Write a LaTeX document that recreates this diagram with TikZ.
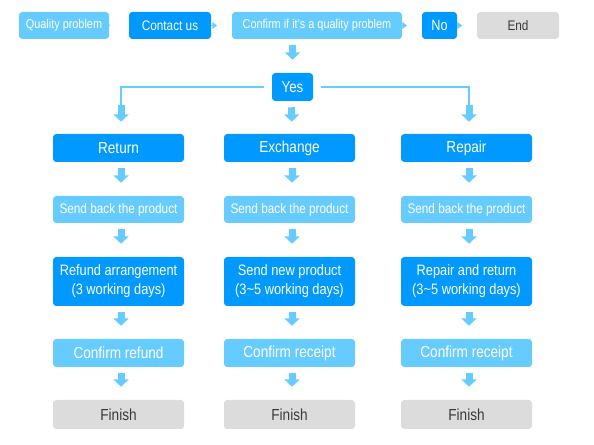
\documentclass[tikz,border=0pt]{standalone}
\usepackage{fontspec}
\setmainfont{Liberation Sans}[FakeStretch=0.85]
\usetikzlibrary{arrows.meta,calc}
\definecolor{dblue}{HTML}{0099FF}
\definecolor{lblue}{HTML}{66CCFF}
\definecolor{lgrey}{HTML}{DCDCDC}
\definecolor{tgrey}{HTML}{3A3A3A}
\tikzset{
  box/.style={rectangle,rounded corners=2.5pt,inner sep=0pt,align=center,text=white},
  dbox/.style={box,fill=dblue},
  lbox/.style={box,fill=lblue},
  gbox/.style={box,fill=lgrey,text=tgrey},
  toprow/.style={minimum height=20.25pt},
  colbox/.style={minimum width=98.25pt},
  fsmall/.style={font=\fontsize{9.6}{11}\selectfont},
  fmid/.style={font=\fontsize{10.4}{12}\selectfont},
  fbig/.style={font=\fontsize{12}{14}\selectfont},
  ftwo/.style={font=\fontsize{11.3}{14.2}\selectfont},
  tiparrow/.style={draw=lblue,line width=1.1pt,-{Triangle[width=5pt,length=3.5pt]}},
  branch/.style={draw=lblue,line width=1.1pt},
  blockarrow/.style={draw=lblue,line width=5.25pt,-{Triangle[width=11.25pt,length=5.5pt]}},
}
\begin{document}
\begin{tikzpicture}[x=0.75pt,y=-0.75pt]
\useasboundingbox (0,0) rectangle (594,445);
% top row
\node[lbox,toprow,fsmall,minimum width=67.5pt] (qp) at (64,25.5) {Quality problem};
\node[dbox,toprow,fmid,minimum width=61.5pt] (contact) at (170,25.5) {Contact us};
\node[lbox,toprow,fsmall,minimum width=127.5pt] (confirm) at (317,25.5) {Confirm if it's a quality problem};
\node[dbox,toprow,font=\fontsize{11.2}{13}\selectfont,minimum width=26.25pt] (no) at (439.5,25.5) {No};
\node[gbox,toprow,fmid,minimum width=61.5pt] (end) at (518,25.5) {End};
\draw[tiparrow,shorten >=14pt] (qp.east) -- (contact.west);
\draw[tiparrow,shorten >=11pt] (contact.east) -- (confirm.west);
\draw[tiparrow,shorten >=11pt] (confirm.east) -- (no.west);
\draw[tiparrow,shorten >=11pt] (no.east) -- (end.west);
% yes
\node[dbox,font=\fontsize{11.8}{13}\selectfont,minimum width=30.75pt,minimum height=21pt] (yes) at (292.5,87) {Yes};
\draw[blockarrow,shorten <=4.5pt,shorten >=9.75pt] (yes.north |- confirm.south) -- (yes.north);
% columns
\foreach \n/\x/\t/\s/\c in {a/118.5/Return/Refund arrangement\\(3 working days)/Confirm refund,
                             b/289.5/Exchange/Send new product\\(3\textasciitilde5 working days)/Confirm receipt,
                             c/466.5/Repair/Repair and return\\(3\textasciitilde5 working days)/Confirm receipt}{
  \node[dbox,colbox,fbig,minimum height=21pt] (\n1) at (\x,148) {\t};
  \node[lbox,colbox,fmid,minimum height=20.25pt] (\n2) at (\x,209.5) {Send back the product};
  \node[dbox,colbox,ftwo,minimum height=36.75pt] (\n3) at (\x,281.5) {\s};
  \node[lbox,colbox,fbig,minimum height=21pt] (\n4) at (\x,353) {\c};
  \node[gbox,colbox,fbig,minimum height=21.75pt] (\n5) at (\x,414.5) {Finish};
  \draw[blockarrow,shorten <=4.5pt,shorten >=9.75pt] ([xshift=1.9pt]\n1.south) -- ([xshift=1.9pt]\n2.north);
  \draw[blockarrow,shorten <=4.5pt,shorten >=9.75pt] ([xshift=1.9pt]\n2.south) -- ([xshift=1.9pt]\n3.north);
  \draw[blockarrow,shorten <=4.5pt,shorten >=9.75pt] ([xshift=1.9pt]\n3.south) -- ([xshift=1.9pt]\n4.north);
  \draw[blockarrow,shorten <=4.5pt,shorten >=9.75pt] ([xshift=1.9pt]\n4.south) -- ([xshift=1.9pt]\n5.north);
}
% branches from yes
\coordinate (la) at ($(a1.north)+(1.9pt,21pt)$);
\coordinate (lc) at ($(c1.north)+(1.9pt,21pt)$);
\draw[branch] ([xshift=-6pt]yes.west) -| (la);
\draw[branch] ([xshift=6pt]yes.east) -| (lc);
\draw[blockarrow,shorten >=9pt] ($(la)+(0,0.5pt)$) -- ([xshift=1.9pt]a1.north);
\draw[blockarrow,shorten >=9pt] ($(lc)+(0,0.5pt)$) -- ([xshift=1.9pt]c1.north);
\draw[blockarrow,shorten <=4.5pt,shorten >=9pt] ([xshift=-0.75pt]yes.south) -- ([xshift=1.9pt]b1.north);
\end{tikzpicture}
\end{document}
